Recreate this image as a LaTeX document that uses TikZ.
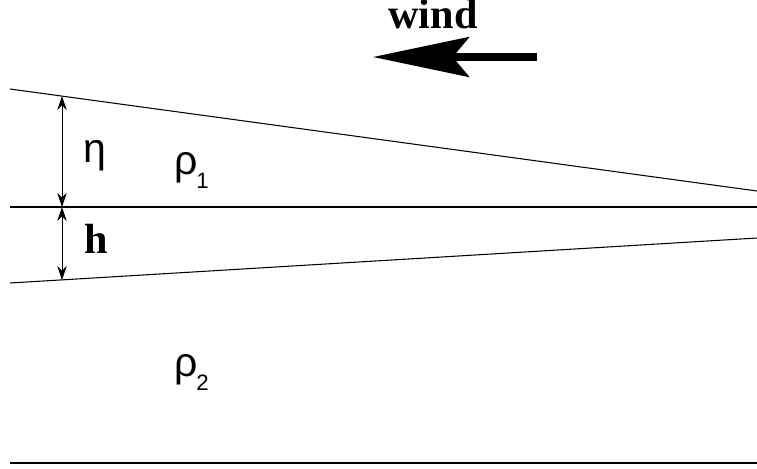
\documentclass[tikz,border=0pt]{standalone}
\usepackage{fontspec}
\setmainfont{Liberation Serif}
\newfontfamily\symfont{Liberation Sans}
\usetikzlibrary{arrows.meta}

\tikzset{
  layer/.style={line width=0.9pt},
  gap/.style={line width=0.8pt, {Stealth[length=12pt,width=8pt]}-{Stealth[length=12pt,width=8pt]}},
  windarrow/.style={line width=6pt, -{Stealth[length=82pt,width=34pt,inset=14pt]}},
  greek/.style={font=\symfont\fontsize{35}{40}\selectfont, inner sep=0pt, anchor=base west},
  bold/.style={font=\bfseries\fontsize{36}{40}\selectfont, inner sep=0pt, anchor=base}
}
\newcommand{\lowsub}[1]{\kern-1pt\raisebox{-12pt}{\fontsize{19}{19}\selectfont #1}}

\begin{document}
\begin{tikzpicture}[x=0.03cm, y=-0.03cm]
  \useasboundingbox (0,0) rectangle (757,468);
  % interfaces
  \coordinate (topL) at (10,89);   \coordinate (topR) at (757,191);
  \coordinate (midL) at (10,207);  \coordinate (midR) at (757,207);
  \coordinate (lowL) at (10,283);  \coordinate (lowR) at (757,238);
  \coordinate (botL) at (10,463);  \coordinate (botR) at (757,463);
  \draw[layer] (topL) -- (topR);
  \draw[layer] (midL) -- (midR);
  \draw[layer] (lowL) -- (lowR);
  \draw[layer] (botL) -- (botR);
  % thicknesses
  \coordinate (etaT) at (62,96);
  \coordinate (etaB) at (62,207);
  \coordinate (hB) at (62,280);
  \draw[gap] (etaT) -- (etaB);
  \draw[gap] (etaB) -- (hB);
  \node[greek] (eta) at (83,162) {η};
  \node[bold] (h) at (96,253) {h};
  \node[greek] (rho1) at (174,174) {ρ\lowsub{1}};
  \node[greek] (rho2) at (174,376) {ρ\lowsub{2}};
  % wind
  \node[bold] (wind) at (433,28) {wind};
  \coordinate (windS) at (537,57);
  \coordinate (windE) at (373,57);
  \draw[windarrow] (windS) -- (windE);
\end{tikzpicture}
\end{document}
